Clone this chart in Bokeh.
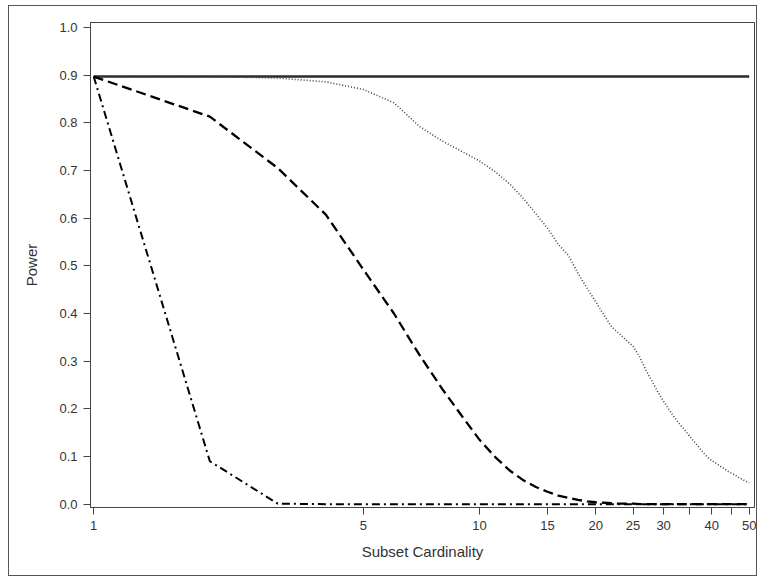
from bokeh.plotting import figure
from bokeh.models import FixedTicker, NumeralTickFormatter, Range1d
from bokeh.embed import file_html
from bokeh.resources import INLINE

cardinality = [1, 2, 3, 4, 5, 6, 7, 8, 9, 10, 11, 12, 13, 14, 15, 16, 17, 18, 19, 20,
               21, 22, 23, 24, 25, 26, 27, 28, 29, 30, 31, 32, 33, 34, 35, 36, 37, 38, 39, 40,
               41, 42, 43, 44, 45, 46, 47, 48, 49, 50]

power_solid = [0.897, 0.897, 0.897, 0.897, 0.897, 0.897, 0.897, 0.897, 0.897, 0.897,
               0.897, 0.897, 0.897, 0.897, 0.897, 0.897, 0.897, 0.897, 0.897, 0.897,
               0.897, 0.897, 0.897, 0.897, 0.897, 0.897, 0.897, 0.897, 0.897, 0.897,
               0.897, 0.897, 0.897, 0.897, 0.897, 0.897, 0.897, 0.897, 0.897, 0.897,
               0.897, 0.897, 0.897, 0.897, 0.897, 0.897, 0.897, 0.897, 0.897, 0.897]

power_dotted = [0.897, 0.897, 0.894, 0.886, 0.870, 0.842, 0.792, 0.762, 0.740, 0.720,
                0.697, 0.671, 0.641, 0.609, 0.579, 0.545, 0.522, 0.484, 0.453, 0.425,
                0.397, 0.372, 0.358, 0.344, 0.331, 0.309, 0.281, 0.258, 0.235, 0.216,
                0.198, 0.182, 0.168, 0.156, 0.143, 0.131, 0.120, 0.108, 0.098, 0.0915,
                0.086, 0.080, 0.075, 0.069, 0.065, 0.061, 0.056, 0.052, 0.048, 0.045]

power_dashed = [0.897, 0.813, 0.705, 0.607, 0.492, 0.400, 0.312, 0.242, 0.185, 0.135,
                0.098, 0.070, 0.050, 0.036, 0.026, 0.018, 0.013, 0.009, 0.006, 0.004,
                0.003, 0.002, 0.001, 0.001, 0.001, 0.0, 0.0, 0.0, 0.0, 0.0,
                0.0, 0.0, 0.0, 0.0, 0.0, 0.0, 0.0, 0.0, 0.0, 0.0,
                0.0, 0.0, 0.0, 0.0, 0.0, 0.0, 0.0, 0.0, 0.0, 0.0]

power_dashdot = [0.897, 0.090, 0.001, 0.0, 0.0, 0.0, 0.0, 0.0, 0.0, 0.0,
                 0.0, 0.0, 0.0, 0.0, 0.0, 0.0, 0.0, 0.0, 0.0, 0.0,
                 0.0, 0.0, 0.0, 0.0, 0.0, 0.0, 0.0, 0.0, 0.0, 0.0,
                 0.0, 0.0, 0.0, 0.0, 0.0, 0.0, 0.0, 0.0, 0.0, 0.0,
                 0.0, 0.0, 0.0, 0.0, 0.0, 0.0, 0.0, 0.0, 0.0, 0.0]

x_ticks = [1, 5, 10, 15, 20, 25, 30, 35, 40, 45, 50]
y_ticks = [0.0, 0.1, 0.2, 0.3, 0.4, 0.5, 0.6, 0.7, 0.8, 0.9, 1.0]

FONT = "Liberation Sans"
TXT = "#333333"

p = figure(width=749, height=571, output_backend="svg", toolbar_location=None,
           x_axis_type="log",
           x_range=Range1d(0.981, 51.6), y_range=Range1d(-0.007, 1.0105),
           min_border_left=81, min_border_right=4, min_border_top=16, min_border_bottom=70)
p.margin = (5, 0, 0, 8)
p.styles = {"border": "1px solid #555555", "box-sizing": "border-box"}
p.background_fill_color = "white"
p.border_fill_color = "white"
p.outline_line_color = "#444444"
p.outline_line_width = 1
p.xgrid.visible = False
p.ygrid.visible = False

p.line(cardinality, power_solid, line_color="#2b2b2b", line_width=2.5)
p.line(cardinality, power_dotted, line_color="#444444", line_width=1.6, line_dash="1 2")
p.line(cardinality, power_dashed, line_color="black", line_width=2.3, line_dash="10 5")
p.line(cardinality, power_dashdot, line_color="black", line_width=2.0, line_dash="8 4 2 4")

xa = p.xaxis[0]
xa.ticker = FixedTicker(ticks=x_ticks)
xa.formatter = NumeralTickFormatter(format="0")
xa.major_label_overrides = {35: "", 45: ""}
xa.axis_label = "Subset Cardinality"

ya = p.yaxis[0]
ya.ticker = FixedTicker(ticks=y_ticks)
ya.formatter = NumeralTickFormatter(format="0.0")
ya.axis_label = "Power"

for ax in (xa, ya):
    ax.axis_line_color = "#444444"
    ax.major_tick_line_color = "#444444"
    ax.major_tick_in = 0
    ax.major_tick_out = 7
    ax.minor_tick_line_color = None
    ax.major_label_text_font = FONT
    ax.major_label_text_font_size = "13px"
    ax.major_label_text_color = TXT
    ax.axis_label_text_font = FONT
    ax.axis_label_text_font_size = "15px"
    ax.axis_label_text_font_style = "normal"
    ax.axis_label_text_color = TXT

xa.major_label_standoff = 6
xa.axis_label_standoff = 10
ya.major_label_standoff = 6
ya.axis_label_standoff = 16

open("out.html", "w").write(file_html(p, INLINE))
